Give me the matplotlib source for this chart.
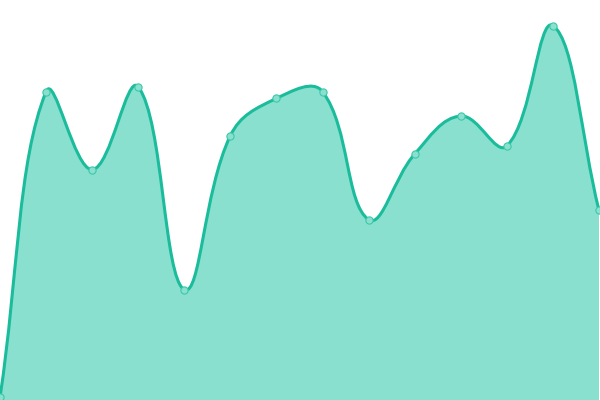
import numpy as np
import matplotlib
matplotlib.use("Agg")
import matplotlib.pyplot as plt
from matplotlib.path import Path
from matplotlib.patches import PathPatch

# ==========================================================
# Data (y scale 0..100)
# ==========================================================

labels = list(range(14))
values = [0.7, 77.1, 57.6, 78.3, 27.6, 66.1, 75.4,
          77.1, 45.1, 61.5, 71.0, 63.5, 93.6, 47.4]

line_color = '#1abc9c'
fill_color = '#8ae0cf'
point_edge = '#3cc8a9'

tension = 0.4

# ==========================================================
# Figure
# ==========================================================

W, H = 600, 400
fig = plt.figure(figsize=(6, 4), dpi=100)
ax = fig.add_axes([0, 0, 1, 1])

x_min, x_max = 0.0, 13 * 600 / 599
y_min, y_max = 0.0, 100.0
ax.set_xlim(x_min, x_max)
ax.set_ylim(y_min, y_max)
ax.axis('off')

# scale factors, so the spline is built in pixel space
sx = W / (x_max - x_min)
sy = H / (y_max - y_min)

px = np.array(labels, dtype=float) * sx
py = np.array(values, dtype=float) * sy

# ==========================================================
# Cardinal-like spline (control points per point)
# ==========================================================

n = len(px)
cp_prev = np.zeros((n, 2))
cp_next = np.zeros((n, 2))
for i in range(n):
    p0 = (px[max(i - 1, 0)], py[max(i - 1, 0)])
    p1 = (px[i], py[i])
    p2 = (px[min(i + 1, n - 1)], py[min(i + 1, n - 1)])
    d01 = np.hypot(p1[0] - p0[0], p1[1] - p0[1])
    d12 = np.hypot(p2[0] - p1[0], p2[1] - p1[1])
    tot = d01 + d12
    s01 = d01 / tot if tot else 0
    s12 = d12 / tot if tot else 0
    fa = tension * s01
    fb = tension * s12
    cp_prev[i] = (p1[0] - fa * (p2[0] - p0[0]), p1[1] - fa * (p2[1] - p0[1]))
    cp_next[i] = (p1[0] + fb * (p2[0] - p0[0]), p1[1] + fb * (p2[1] - p0[1]))

# keep control points inside the chart area
cp_prev[:, 0] = np.clip(cp_prev[:, 0], 0, W)
cp_prev[:, 1] = np.clip(cp_prev[:, 1], 0, H)
cp_next[:, 0] = np.clip(cp_next[:, 0], 0, W)
cp_next[:, 1] = np.clip(cp_next[:, 1], 0, H)

verts = [(px[0], py[0])]
codes = [Path.MOVETO]
for i in range(n - 1):
    verts += [tuple(cp_next[i]), tuple(cp_prev[i + 1]), (px[i + 1], py[i + 1])]
    codes += [Path.CURVE4] * 3

# back to data coordinates
verts = [(vx / sx, vy / sy) for vx, vy in verts]

line_path = Path(verts, codes)

fill_verts = verts + [(verts[-1][0], y_min), (verts[0][0], y_min), verts[0]]
fill_codes = codes + [Path.LINETO, Path.LINETO, Path.CLOSEPOLY]
fill_path = Path(fill_verts, fill_codes)

# ==========================================================
# Draw
# ==========================================================

ax.add_patch(PathPatch(fill_path, facecolor=fill_color,
                       edgecolor='none', zorder=1))
ax.add_patch(PathPatch(line_path, facecolor='none', edgecolor=line_color,
                       linewidth=2.2, capstyle='round', joinstyle='round',
                       zorder=2))

ax.plot(labels, values, linestyle='none', marker='o',
        markersize=5.2, markerfacecolor=fill_color,
        markeredgecolor=point_edge, markeredgewidth=0.8,
        clip_on=False, zorder=3)

fig.savefig('out.png', dpi=100)
